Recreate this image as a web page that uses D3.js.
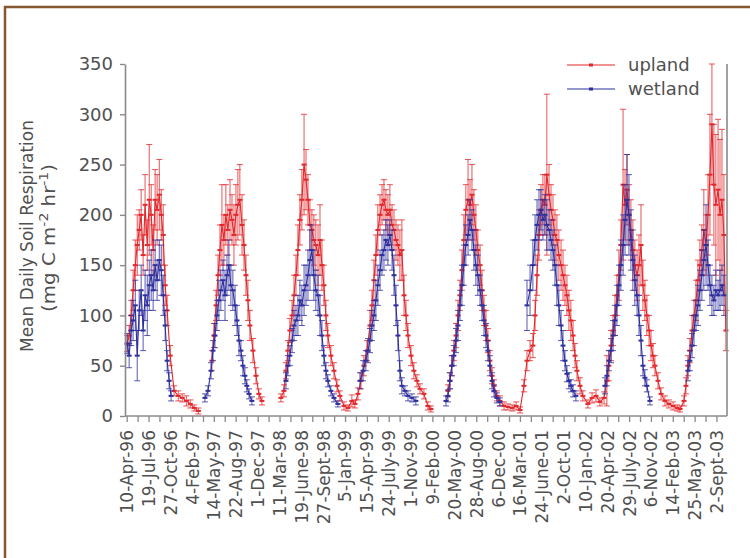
<!DOCTYPE html>
<html>
<head>
<meta charset="utf-8">
<script src="https://d3js.org/d3.v7.min.js"></script>
<style>
html, body { margin: 0; padding: 0; background: #fff; }
svg { display: block; font-family: "DejaVu Sans", Verdana, sans-serif; }
</style>
</head>
<body>
<div id="chart"></div>
<script>
// Measurements: [year-dayOfYear, mean, error]
const upland1996 = [
    ["1996-101",72,8],["1996-110",80,10],["1996-119",100,15],["1996-128",125,20],["1996-138",150,25],
    ["1996-147",170,30],["1996-156",185,20],["1996-165",200,25],["1996-174",160,20],["1996-183",210,30],
    ["1996-193",170,25],["1996-202",215,55],["1996-211",200,30],["1996-220",165,25],["1996-229",215,30],
    ["1996-238",205,35],["1996-248",220,35],["1996-257",200,25],["1996-266",180,30],["1996-275",130,20],
    ["1996-284",105,15],["1996-298",60,10],["1996-316",25,5],["1996-335",20,5],["1996-353",18,4],
    ["1997-006",15,5],["1997-024",12,4],["1997-042",8,3],["1997-061",5,3]
];
const wetland1996 = [
    ["1996-101",72,10],["1996-110",60,12],["1996-119",85,15],["1996-128",95,20],["1996-138",110,25],
    ["1996-147",60,25],["1996-156",105,20],["1996-165",125,25],["1996-174",85,20],["1996-183",120,25],
    ["1996-193",110,30],["1996-202",130,25],["1996-211",140,25],["1996-220",125,20],["1996-229",150,25],
    ["1996-238",135,20],["1996-248",155,20],["1996-257",145,25],["1996-266",120,20],["1996-275",90,15],
    ["1996-284",55,10],["1996-293",35,8],["1996-302",20,5]
];
const upland1997 = [
    ["1997-123",55,10],["1997-132",80,12],["1997-142",110,15],["1997-151",140,20],["1997-160",165,25],
    ["1997-169",190,40],["1997-178",175,25],["1997-187",200,30],["1997-196",185,25],["1997-206",205,30],
    ["1997-215",195,25],["1997-224",180,30],["1997-233",200,30],["1997-242",210,35],["1997-251",215,35],
    ["1997-261",190,30],["1997-270",170,25],["1997-279",140,20],["1997-288",115,20],["1997-297",90,15],
    ["1997-311",65,12],["1997-325",40,8],["1997-338",22,5],["1997-352",15,4]
];
const wetland1997 = [
    ["1997-091",18,4],["1997-105",25,5],["1997-119",45,8],["1997-128",65,10],["1997-137",80,12],
    ["1997-146",100,15],["1997-155",115,20],["1997-164",125,20],["1997-174",135,20],["1997-183",120,25],
    ["1997-192",140,20],["1997-201",150,25],["1997-210",130,20],["1997-219",125,20],["1997-229",110,20],
    ["1997-238",95,15],["1997-247",75,15],["1997-256",65,10],["1997-265",50,10],["1997-274",40,8],
    ["1997-283",30,6],["1997-293",22,5],["1997-306",15,4]
];
const upland1998 = [
    ["1998-074",18,4],["1998-088",25,6],["1998-097",45,8],["1998-106",65,10],["1998-115",85,12],
    ["1998-125",100,15],["1998-134",120,20],["1998-143",140,20],["1998-152",165,25],["1998-161",195,25],
    ["1998-170",215,30],["1998-180",250,50],["1998-189",235,30],["1998-198",215,25],["1998-207",190,25],
    ["1998-216",185,20],["1998-225",175,25],["1998-234",170,25],["1998-244",160,30],["1998-253",175,35],
    ["1998-262",150,25],["1998-271",130,20],["1998-280",100,15],["1998-289",80,12],["1998-303",60,10],
    ["1998-317",45,8],["1998-331",30,6],["1998-344",20,5],["1998-363",10,4]
];
const wetland1998 = [
    ["1998-097",35,8],["1998-106",50,10],["1998-115",60,10],["1998-125",75,12],["1998-134",90,15],
    ["1998-143",95,15],["1998-152",100,20],["1998-161",115,20],["1998-170",110,20],["1998-180",125,25],
    ["1998-189",130,20],["1998-198",140,25],["1998-207",155,30],["1998-216",165,25],["1998-225",140,25],
    ["1998-234",125,20],["1998-244",120,20],["1998-253",100,20],["1998-262",80,15],["1998-271",60,10],
    ["1998-280",45,8],["1998-289",35,6],["1998-303",25,5],["1998-317",18,4],["1998-335",12,3]
];
const upland1999 = [
    ["1999-016",8,3],["1999-034",15,6],["1999-048",12,4],["1999-062",22,6],["1999-076",35,8],
    ["1999-089",50,10],["1999-103",65,10],["1999-117",90,15],["1999-126",110,15],["1999-135",135,20],
    ["1999-144",160,20],["1999-153",185,25],["1999-163",200,20],["1999-172",210,20],["1999-181",215,20],
    ["1999-190",205,20],["1999-199",200,20],["1999-208",205,25],["1999-218",190,20],["1999-227",185,20],
    ["1999-236",175,20],["1999-245",170,20],["1999-254",160,25],["1999-263",165,30],["1999-273",120,20],
    ["1999-282",100,15],["1999-291",80,12],["1999-305",60,10],["1999-318",45,8],["1999-332",35,6],
    ["1999-346",27,5],["1999-364",22,5],["2000-017",10,4],["2000-031",7,3]
];
const wetland1999 = [
    ["1999-071",35,8],["1999-085",45,10],["1999-098",55,10],["1999-108",65,12],["1999-117",75,12],
    ["1999-126",90,15],["1999-135",100,15],["1999-144",115,20],["1999-153",130,20],["1999-163",145,20],
    ["1999-172",160,20],["1999-181",165,20],["1999-190",175,20],["1999-199",170,20],["1999-208",180,15],
    ["1999-218",165,20],["1999-227",140,20],["1999-236",110,20],["1999-245",80,15],["1999-254",45,10],
    ["1999-263",30,8],["1999-277",25,5],["1999-291",20,5],["1999-309",18,4],["1999-327",15,4]
];
const upland2000 = [
    ["2000-109",25,6],["2000-118",35,8],["2000-127",50,10],["2000-136",65,10],["2000-146",80,12],
    ["2000-155",100,15],["2000-164",120,15],["2000-173",145,20],["2000-182",175,25],["2000-191",205,25],
    ["2000-201",215,40],["2000-210",210,25],["2000-219",220,30],["2000-228",200,25],["2000-237",185,25],
    ["2000-246",165,20],["2000-256",150,20],["2000-265",125,20],["2000-274",105,15],["2000-283",90,15],
    ["2000-292",75,12],["2000-301",55,10],["2000-311",40,8],["2000-320",30,6],["2000-333",20,5],
    ["2000-347",15,5],["2000-366",10,4],["2001-018",9,3],["2001-037",8,3],["2001-055",10,4],
    ["2001-073",6,3]
];
const wetland2000 = [
    ["2000-100",15,5],["2000-109",20,6],["2000-118",35,8],["2000-127",50,10],["2000-136",60,10],
    ["2000-146",75,12],["2000-155",90,15],["2000-164",110,15],["2000-173",130,20],["2000-182",150,20],
    ["2000-191",170,20],["2000-201",180,20],["2000-210",195,20],["2000-219",185,20],["2000-228",165,20],
    ["2000-237",150,20],["2000-246",140,20],["2000-256",125,15],["2000-265",110,15],["2000-274",95,15],
    ["2000-283",80,12],["2000-292",65,10],["2000-301",50,10],["2000-311",35,8],["2000-320",25,6],
    ["2000-333",18,5],["2000-347",14,4]
];
const upland2001 = [
    ["2001-091",30,6],["2001-105",55,10],["2001-119",65,10],["2001-132",70,12],["2001-142",100,15],
    ["2001-151",140,20],["2001-160",180,25],["2001-169",205,25],["2001-178",215,25],["2001-187",210,30],
    ["2001-196",240,80],["2001-206",220,30],["2001-215",205,25],["2001-224",195,25],["2001-233",180,25],
    ["2001-242",175,25],["2001-251",160,25],["2001-261",150,25],["2001-270",140,25],["2001-279",130,20],
    ["2001-288",120,20],["2001-297",105,20],["2001-306",95,20],["2001-316",80,15],["2001-325",60,12],
    ["2001-334",45,10],["2001-348",30,8],["2001-361",20,5]
];
const wetland2001 = [
    ["2001-105",110,25],["2001-119",125,25],["2001-132",150,25],["2001-142",175,25],["2001-151",190,25],
    ["2001-160",200,25],["2001-169",205,20],["2001-178",195,20],["2001-187",200,20],["2001-196",190,25],
    ["2001-206",185,20],["2001-215",175,20],["2001-224",165,20],["2001-233",150,20],["2001-242",130,20],
    ["2001-251",110,20],["2001-261",90,15],["2001-270",70,15],["2001-279",55,10],["2001-288",42,8],
    ["2001-297",35,8],["2001-306",30,6],["2001-316",25,6],["2001-329",20,5]
];
const upland2002 = [
    ["2002-019",12,4],["2002-038",18,5],["2002-056",20,6],["2002-074",14,4],["2002-093",18,6],
    ["2002-106",35,25],["2002-115",50,15],["2002-125",70,15],["2002-134",85,15],["2002-143",100,20],
    ["2002-152",120,20],["2002-161",140,25],["2002-170",170,25],["2002-180",230,75],["2002-189",210,35],
    ["2002-198",225,35],["2002-207",200,30],["2002-216",185,30],["2002-225",165,30],["2002-234",150,25],
    ["2002-244",140,25],["2002-253",150,30],["2002-262",170,40],["2002-271",130,25],["2002-280",115,20],
    ["2002-289",100,20],["2002-299",85,15],["2002-308",70,15],["2002-317",60,12],["2002-326",50,10],
    ["2002-340",35,8],["2002-354",22,6],["2003-007",15,5],["2003-025",12,4],["2003-044",10,4],
    ["2003-062",8,3],["2003-076",7,3]
];
const wetland2002 = [
    ["2002-097",30,8],["2002-106",40,10],["2002-115",55,10],["2002-125",65,12],["2002-134",80,15],
    ["2002-143",95,15],["2002-152",110,20],["2002-161",130,20],["2002-170",150,25],["2002-180",170,30],
    ["2002-189",195,35],["2002-198",215,45],["2002-207",200,40],["2002-216",175,30],["2002-225",155,30],
    ["2002-234",135,25],["2002-244",120,20],["2002-253",100,20],["2002-262",75,15],["2002-271",50,10],
    ["2002-280",38,8],["2002-289",30,6],["2002-303",15,4]
];
const upland2003 = [
    ["2003-094",15,5],["2003-103",30,8],["2003-112",50,10],["2003-121",65,12],["2003-131",85,15],
    ["2003-140",100,15],["2003-149",115,20],["2003-158",135,20],["2003-167",150,25],["2003-176",165,25],
    ["2003-185",185,40],["2003-195",170,30],["2003-204",200,40],["2003-213",240,60],["2003-222",290,60],
    ["2003-231",230,60],["2003-240",210,70],["2003-250",225,70],["2003-259",200,75],["2003-268",215,70],
    ["2003-277",180,60],["2003-286",85,20]
];
const wetland2003 = [
    ["2003-112",45,10],["2003-121",55,10],["2003-131",70,12],["2003-140",85,15],["2003-149",100,15],
    ["2003-158",110,20],["2003-167",125,20],["2003-176",140,25],["2003-185",155,30],["2003-195",170,40],
    ["2003-204",150,25],["2003-213",130,20],["2003-222",120,20],["2003-231",115,15],["2003-240",125,20],
    ["2003-250",120,15],["2003-259",125,20],["2003-268",130,20],["2003-277",120,20]
];

const tickLabels = [
    "10-Apr-96","19-Jul-96","27-Oct-96","4-Feb-97","14-May-97","22-Aug-97","1-Dec-97",
    "11-Mar-98","19-June-98","27-Sept-98","5-Jan-99","15-Apr-99","24-July-99","1-Nov-99",
    "9-Feb-00","20-May-00","28-Aug-00","6-Dec-00","16-Mar-01","24-June-01","2-Oct-01",
    "10-Jan-02","20-Apr-02","29-July-02","6-Nov-02","14-Feb-03","25-May-03","2-Sept-03"
];
const yTicks = [0, 50, 100, 150, 200, 250, 300, 350];
const seriesNames = ["upland", "wetland"];

// Layout
const width = 750, height = 558;
const plotLeft = 125, plotRight = 727, plotTop = 64, plotBottom = 416;
const upColor = "#e3282d";
const wetColor = "#2f2f9e";
const axisColor = "#8a8a8a";
const textColor = "#505050";
const frameColor = "#86582f";

const parseDoy = d3.timeParse("%Y-%j");
const parseLabel = d3.timeParse("%d-%b-%y");

function labelDate(s) {
    const parts = s.split("-");
    return parseLabel(parts[0] + "-" + parts[1].slice(0, 3) + "-" + parts[2]);
}

function toPoints(rows) {
    return rows.map(r => ({ date: parseDoy(r[0]), v: r[1], e: r[2] }));
}

// split a series where the gap between visits is long (no winter sampling)
function segments(points) {
    const segs = [];
    let cur = [];
    points.forEach((p, i) => {
        if (i > 0 && (p.date - points[i - 1].date) / 864e5 > 40) {
            segs.push(cur);
            cur = [];
        }
        cur.push(p);
    });
    if (cur.length) segs.push(cur);
    return segs;
}

const upland = toPoints([].concat(upland1996, upland1997, upland1998, upland1999,
    upland2000, upland2001, upland2002, upland2003));
const wetland = toPoints([].concat(wetland1996, wetland1997, wetland1998, wetland1999,
    wetland2000, wetland2001, wetland2002, wetland2003));

const x = d3.scaleTime()
    .domain([parseDoy("1996-091"), parseDoy("2003-291")])
    .range([plotLeft, plotRight]);
const y = d3.scaleLinear().domain([0, 350]).range([plotBottom, plotTop]);

const svg = d3.select("#chart").append("svg")
    .attr("width", width)
    .attr("height", height);

svg.append("rect").attr("width", width).attr("height", height).attr("fill", "#fff");

// brown frame (only top and left edges fall inside the picture)
svg.append("rect")
    .attr("x", 5).attr("y", 7)
    .attr("width", 800).attr("height", 600)
    .attr("fill", "none")
    .attr("stroke", frameColor)
    .attr("stroke-width", 2.5);

// series
const line = d3.line().x(d => x(d.date)).y(d => y(d.v));

function drawSeries(points, color) {
    const g = svg.append("g");
    g.selectAll("path.seg")
        .data(segments(points))
        .enter().append("path")
        .attr("class", "seg")
        .attr("d", line)
        .attr("fill", "none")
        .attr("stroke", color)
        .attr("stroke-width", 1.1);

    const eb = g.selectAll("g.eb")
        .data(points)
        .enter().append("g")
        .attr("class", "eb")
        .attr("stroke", color)
        .attr("stroke-opacity", 0.8)
        .attr("stroke-width", 1);
    eb.append("line")
        .attr("x1", d => x(d.date)).attr("x2", d => x(d.date))
        .attr("y1", d => y(Math.max(0, d.v - d.e))).attr("y2", d => y(d.v + d.e));
    eb.append("line")
        .attr("x1", d => x(d.date) - 3).attr("x2", d => x(d.date) + 3)
        .attr("y1", d => y(d.v + d.e)).attr("y2", d => y(d.v + d.e));
    eb.append("line")
        .attr("x1", d => x(d.date) - 3).attr("x2", d => x(d.date) + 3)
        .attr("y1", d => y(Math.max(0, d.v - d.e))).attr("y2", d => y(Math.max(0, d.v - d.e)));

    g.selectAll("rect.mk")
        .data(points)
        .enter().append("rect")
        .attr("class", "mk")
        .attr("x", d => x(d.date) - 2.5)
        .attr("y", d => y(d.v) - 1)
        .attr("width", 5).attr("height", 2)
        .attr("fill", color);
}

drawSeries(upland, upColor);
drawSeries(wetland, wetColor);

// y axis
const yAxis = svg.append("g")
    .attr("transform", `translate(${plotLeft},0)`)
    .call(d3.axisLeft(y).tickValues(yTicks).tickSize(5).tickSizeOuter(0).tickPadding(7));
yAxis.select(".domain").attr("stroke", axisColor).attr("stroke-width", 1.6);
yAxis.selectAll(".tick line").attr("stroke", axisColor).attr("stroke-width", 1.4);
yAxis.selectAll(".tick text")
    .attr("fill", textColor)
    .style("font-size", "18px")
    .style("font-family", "'DejaVu Sans', Verdana, sans-serif");

// right frame line of plot area
svg.append("line")
    .attr("x1", plotRight).attr("x2", plotRight)
    .attr("y1", plotTop).attr("y2", plotBottom)
    .attr("stroke", axisColor).attr("stroke-width", 1.6);

// x axis
const labelDates = tickLabels.map(labelDate);
const minorDates = d3.pairs(labelDates).map(p => new Date((+p[0] + +p[1]) / 2));
const allTicks = labelDates.concat(minorDates);

svg.append("line")
    .attr("x1", plotLeft).attr("x2", plotRight)
    .attr("y1", plotBottom).attr("y2", plotBottom)
    .attr("stroke", axisColor).attr("stroke-width", 1.6);

svg.append("g").selectAll("line")
    .data(allTicks)
    .enter().append("line")
    .attr("x1", d => x(d)).attr("x2", d => x(d))
    .attr("y1", plotBottom).attr("y2", plotBottom + 6)
    .attr("stroke", axisColor).attr("stroke-width", 1.3);

svg.append("g").selectAll("text")
    .data(tickLabels)
    .enter().append("text")
    .attr("transform", (d, i) => `translate(${x(labelDates[i])},${plotBottom + 14}) rotate(-90)`)
    .attr("dy", "0.35em")
    .attr("text-anchor", "end")
    .attr("fill", textColor)
    .style("font-size", "17px")
    .text(d => d);

// y title
svg.append("text")
    .attr("transform", "translate(33,236) rotate(-90)")
    .attr("text-anchor", "middle")
    .attr("fill", textColor)
    .attr("textLength", 232)
    .attr("lengthAdjust", "spacingAndGlyphs")
    .style("font-size", "17px")
    .text("Mean Daily Soil Respiration");

const t2 = svg.append("text")
    .attr("transform", "translate(55,238) rotate(-90)")
    .attr("text-anchor", "middle")
    .attr("fill", textColor)
    .attr("textLength", 148)
    .attr("lengthAdjust", "spacingAndGlyphs")
    .style("font-size", "17px");
t2.append("tspan").text("(mg C m");
t2.append("tspan").attr("dy", -7).style("font-size", "12px").text("-2");
t2.append("tspan").attr("dy", 7).text(" hr");
t2.append("tspan").attr("dy", -7).style("font-size", "12px").text("-1");
t2.append("tspan").attr("dy", 7).text(")");

// legend
const legend = svg.append("g").selectAll("g")
    .data(seriesNames)
    .enter().append("g")
    .attr("transform", (d, i) => `translate(567,${65 + i * 24})`);
legend.append("line")
    .attr("x1", 0).attr("x2", 48)
    .attr("stroke", (d, i) => i === 0 ? upColor : wetColor)
    .attr("stroke-width", 1.2);
legend.append("rect")
    .attr("x", 22).attr("y", -1.5).attr("width", 4).attr("height", 3)
    .attr("fill", (d, i) => i === 0 ? upColor : wetColor);
legend.append("text")
    .attr("x", 61)
    .attr("dy", "0.35em")
    .attr("fill", textColor)
    .style("font-size", "18px")
    .text(d => d);
</script>
</body>
</html>
